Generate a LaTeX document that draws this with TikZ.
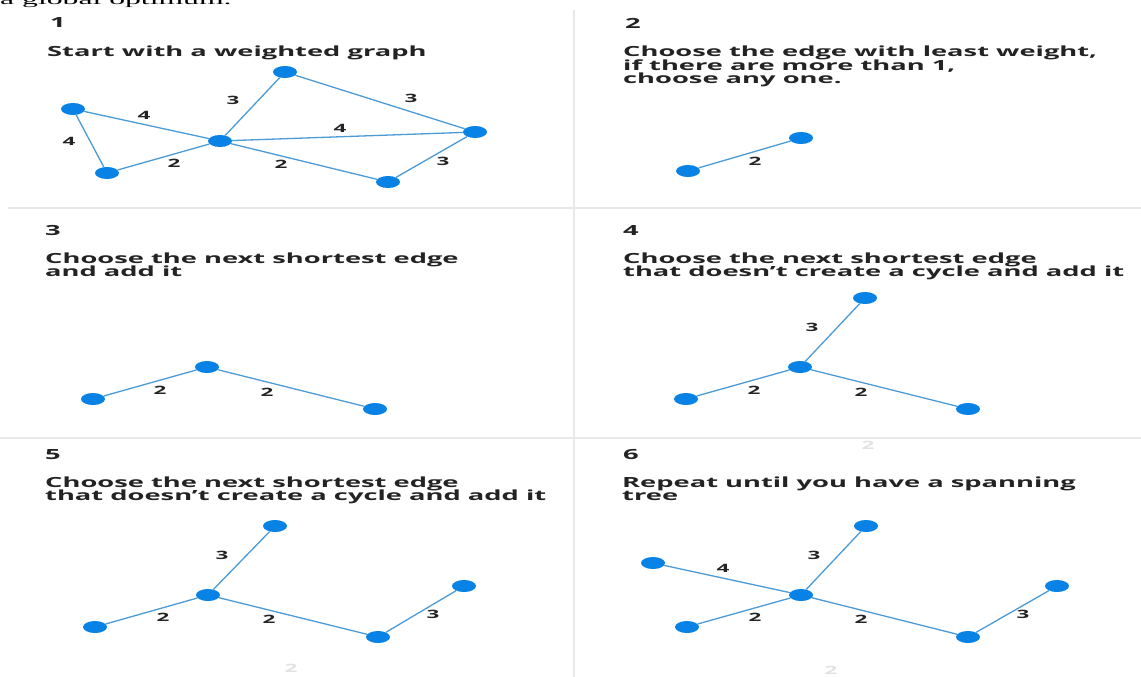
\documentclass[tikz,border=0pt]{standalone}
\usepackage{fontspec}
\usetikzlibrary{shapes.geometric}
\newfontfamily\panelfont[FakeStretch=1.95]{Open Sans}
\newfontfamily\serifwide[FakeStretch=2.2]{Liberation Serif}
\definecolor{edgeblue}{RGB}{75,155,215}
\definecolor{nodeblue}{RGB}{8,130,228}
\definecolor{sepgray}{RGB}{232,232,232}
\definecolor{ghostgray}{RGB}{226,226,226}
\definecolor{txtdark}{RGB}{35,35,35}
\begin{document}
\begin{tikzpicture}[x=1pt,y=-1pt,
  vtx/.style={ellipse, fill=nodeblue, minimum width=24pt, minimum height=12pt, inner sep=0pt},
  edg/.style={draw=edgeblue, line width=1.3pt},
  lbl/.style={font=\panelfont\bfseries\fontsize{11.5}{12}\selectfont, text=txtdark, inner sep=0pt},
  ghost/.style={font=\panelfont\bfseries\fontsize{11.5}{12}\selectfont, text=ghostgray, inner sep=0pt},
  txt/.style={font=\panelfont\bfseries\fontsize{14}{13.3}\selectfont, text=txtdark, anchor=base west, inner sep=0pt},
  sep/.style={draw=sepgray, line width=2pt}]
\useasboundingbox (0,0) rectangle (1141,677);
\fill[white] (0,0) rectangle (1141,677);
% clipped running text at the very top
\begin{scope}
\clip (0,0) rectangle (1141,677);
\node[font=\serifwide\fontsize{14.4}{16}\selectfont, anchor=base west, inner sep=0pt] (top) at (0,5) {a global optimum.};
\end{scope}
% separators
\coordinate (vs1) at (574,10);
\coordinate (vs2) at (574,677);
\coordinate (hs1a) at (8,208);
\coordinate (hs1b) at (1141,208);
\coordinate (hs2a) at (0,438);
\coordinate (hs2b) at (1141,438);
\draw[sep] (vs1) -- (vs2);
\draw[sep] (hs1a) -- (hs1b);
\draw[sep] (hs2a) -- (hs2b);

% ---------- Panel 1 ----------
\node[txt] (n1) at (50,28) {1};
\node[txt] (t1) at (47,57) {Start with a weighted graph};
\node[vtx] (a1) at (73,109) {};
\node[vtx] (b1) at (285,72) {};
\node[vtx] (c1) at (107,173) {};
\node[vtx] (d1) at (220,141) {};
\node[vtx] (e1) at (475,132) {};
\node[vtx] (f1) at (388,182) {};
\draw[edg] (a1) -- (c1);
\draw[edg] (a1) -- (d1);
\draw[edg] (c1) -- (d1);
\draw[edg] (d1) -- (b1);
\draw[edg] (b1) -- (e1);
\draw[edg] (d1) -- (e1);
\draw[edg] (d1) -- (f1);
\draw[edg] (f1) -- (e1);
\node[lbl] (l1a) at (144,115) {4};
\node[lbl] (l1b) at (69,141) {4};
\node[lbl] (l1c) at (233,100) {3};
\node[lbl] (l1d) at (411,98) {3};
\node[lbl] (l1e) at (340,128) {4};
\node[lbl] (l1f) at (174,163) {2};
\node[lbl] (l1g) at (281,164) {2};
\node[lbl] (l1h) at (443,161) {3};

% ---------- Panel 2 ----------
\node[txt] (n2) at (625,29) {2};
\node[txt] (t2a) at (623,57) {Choose the edge with least weight,};
\node[txt] (t2b) at (623,70.3) {if there are more than 1,};
\node[txt] (t2c) at (623,83.6) {choose any one.};
\node[vtx] (p2) at (688,171) {};
\node[vtx] (q2) at (801,138) {};
\draw[edg] (p2) -- (q2);
\node[lbl] (l2a) at (755,161) {2};

% ---------- Panel 3 ----------
\node[txt] (n3) at (45,235) {3};
\node[txt] (t3a) at (45,263) {Choose the next shortest edge};
\node[txt] (t3b) at (45,276.3) {and add it};
\node[vtx] (a3) at (93,399) {};
\node[vtx] (b3) at (207,367) {};
\node[vtx] (c3) at (375,409) {};
\draw[edg] (a3) -- (b3);
\draw[edg] (b3) -- (c3);
\node[lbl] (l3a) at (160,390) {2};
\node[lbl] (l3b) at (267,392) {2};

% ---------- Panel 4 ----------
\node[txt] (n4) at (623,235) {4};
\node[txt] (t4a) at (623,263) {Choose the next shortest edge};
\node[txt] (t4b) at (623,276.3) {that doesn’t create a cycle and add it};
\node[vtx] (a4) at (686,399) {};
\node[vtx] (b4) at (800,367) {};
\node[vtx] (c4) at (865,298) {};
\node[vtx] (d4) at (968,409) {};
\draw[edg] (a4) -- (b4);
\draw[edg] (b4) -- (c4);
\draw[edg] (b4) -- (d4);
\node[lbl] (l4a) at (812,327) {3};
\node[lbl] (l4b) at (754,390) {2};
\node[lbl] (l4c) at (861,392) {2};

% ---------- Panel 5 ----------
\node[txt] (n5) at (45,459) {5};
\node[txt] (t5a) at (45,487.5) {Choose the next shortest edge};
\node[txt] (t5b) at (45,500.8) {that doesn’t create a cycle and add it};
\node[vtx] (a5) at (95,627) {};
\node[vtx] (b5) at (208,595) {};
\node[vtx] (c5) at (275,526) {};
\node[vtx] (d5) at (378,637) {};
\node[vtx] (e5) at (464,586) {};
\draw[edg] (a5) -- (b5);
\draw[edg] (b5) -- (c5);
\draw[edg] (b5) -- (d5);
\draw[edg] (d5) -- (e5);
\node[lbl] (l5a) at (222,555) {3};
\node[lbl] (l5b) at (163,617) {2};
\node[lbl] (l5c) at (269,619) {2};
\node[lbl] (l5d) at (433,614) {3};
\node[ghost] (g5) at (291,668) {2};

% ---------- Panel 6 ----------
\node[ghost] (g6a) at (868,445) {2};
\node[txt] (n6) at (623,459) {6};
\node[txt] (t6a) at (622,487.5) {Repeat until you have a spanning};
\node[txt] (t6b) at (622,500.8) {tree};
\node[vtx] (a6) at (653,563) {};
\node[vtx] (b6) at (866,526) {};
\node[vtx] (c6) at (801,595) {};
\node[vtx] (d6) at (687,627) {};
\node[vtx] (e6) at (968,637) {};
\node[vtx] (f6) at (1057,586) {};
\draw[edg] (a6) -- (c6);
\draw[edg] (c6) -- (b6);
\draw[edg] (d6) -- (c6);
\draw[edg] (c6) -- (e6);
\draw[edg] (e6) -- (f6);
\node[lbl] (l6a) at (723,568) {4};
\node[lbl] (l6b) at (814,555) {3};
\node[lbl] (l6c) at (755,617) {2};
\node[lbl] (l6d) at (861,619) {2};
\node[lbl] (l6e) at (1023,614) {3};
\node[ghost] (g6b) at (831,670) {2};
\end{tikzpicture}
\end{document}
